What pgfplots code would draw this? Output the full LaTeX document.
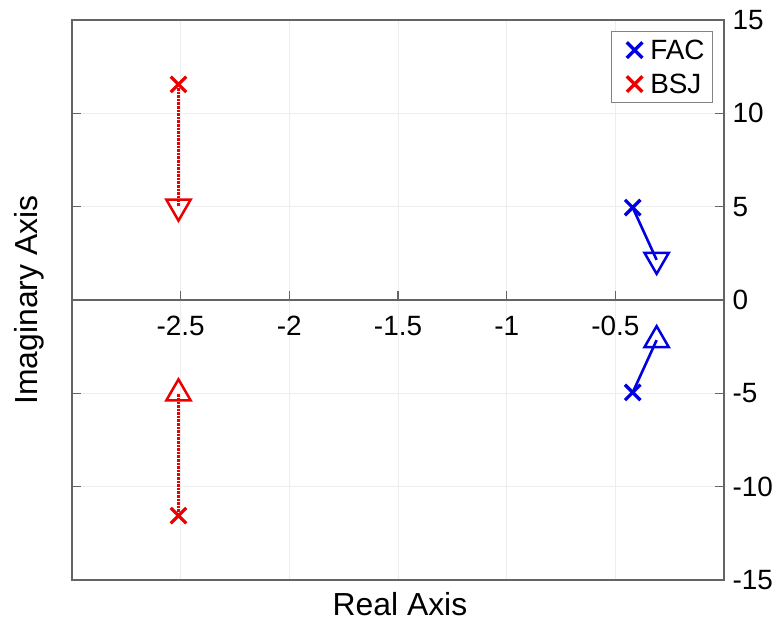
\documentclass[border=0pt]{standalone}
\usepackage{fontspec}
\setmainfont{Liberation Sans}
\usepackage{pgfplots}
\pgfplotsset{compat=1.18}
\definecolor{axgray}{RGB}{100,100,100}
\definecolor{mred}{RGB}{235,0,0}
\definecolor{mblue}{RGB}{0,0,225}
\begin{document}
\begin{tikzpicture}
\useasboundingbox (0,0) rectangle (776bp,624bp);
\begin{axis}[
  at={(72bp,44bp)}, anchor=south west,
  scale only axis, width=652bp, height=560bp,
  xmin=-3, xmax=0, ymin=-15, ymax=15,
  /pgf/number format/assume math mode=true,
  font=\fontsize{28}{32}\selectfont,
  axis line style={axgray, line width=1.2bp},
  xtick={-2.5,-2,-1.5,-1,-0.5}, xticklabels={}, xtick style={draw=none},
  ytick={-15,-10,-5,0,5,10,15},
  yticklabel pos=right, ytick pos=both,
  yticklabel style={xshift=5bp},
  tick align=inside, major tick length=9bp,
  ytick style={axgray, line width=1.3bp},
  grid=major, grid style={gray!14, line width=0.7bp},
  xlabel={Real Axis}, ylabel={Imaginary Axis},
  xlabel style={font=\fontsize{32}{36}\selectfont, at={(axis description cs:0.503,-0.043)}, anchor=center},
  ylabel style={font=\fontsize{32}{36}\selectfont, at={(axis description cs:-0.066,0.5)}, anchor=center},
  legend style={at={(0.983,0.98)}, anchor=north east, draw=axgray!80, line width=0.8bp,
    font=\fontsize{28}{32}\selectfont, inner xsep=2bp, inner ysep=3bp, row sep=3bp,
    nodes={inner xsep=6bp, inner ysep=5bp}},
  legend cell align=left,
  legend image code/.code={\path (-20bp,0bp) (8bp,0bp); \draw[#1] plot coordinates {(0bp,0bp)};},
]
% FAC (blue)
\addplot[mblue, line width=2.6bp, forget plot] coordinates {(-0.42,4.95) (-0.31,2.15)};
\addplot[mblue, line width=2.6bp, forget plot] coordinates {(-0.42,-4.95) (-0.31,-2.15)};
% BSJ (red, dotted)
\addplot[mred, line width=2.6bp, densely dotted, forget plot] coordinates {(-2.51,11.55) (-2.51,5.0)};
\addplot[mred, line width=2.6bp, densely dotted, forget plot] coordinates {(-2.51,-11.55) (-2.51,-5.0)};
% triangles
\addplot[mblue, only marks, mark=triangle, mark size=14bp, line width=2.5bp, mark options={rotate=180}, forget plot] coordinates {(-0.31,2.15)};
\addplot[mblue, only marks, mark=triangle, mark size=14bp, line width=2.5bp, forget plot] coordinates {(-0.31,-2.15)};
\addplot[mred, only marks, mark=triangle, mark size=14bp, line width=2.5bp, mark options={rotate=180}, forget plot] coordinates {(-2.51,5.0)};
\addplot[mred, only marks, mark=triangle, mark size=14bp, line width=2.5bp, forget plot] coordinates {(-2.51,-5.0)};
% crosses (legend)
\addplot[mblue, only marks, mark=x, mark size=11bp, line width=3.3bp] coordinates {(-0.42,4.95) (-0.42,-4.95)};
\addlegendentry{FAC}
\addplot[mred, only marks, mark=x, mark size=11bp, line width=3.3bp] coordinates {(-2.51,11.55) (-2.51,-11.55)};
\addlegendentry{BSJ}
\end{axis}
% x axis through the origin: a half-height axis whose bottom edge is y = 0
\begin{axis}[
  at={(72bp,324bp)}, anchor=south west,
  scale only axis, width=652bp, height=280bp,
  xmin=-3, xmax=0, ymin=0, ymax=15,
  axis x line*=bottom, axis y line=none,
  x axis line style={axgray, line width=1.2bp},
  /pgf/number format/assume math mode=true,
  font=\fontsize{28}{32}\selectfont,
  xtick={-2.5,-2,-1.5,-1,-0.5},
  xticklabels={-2.5,-2,-1.5,-1,-0.5},
  xtick style={axgray, line width=1.3bp},
  tick align=inside, major tick length=9bp,
  xticklabel style={anchor=north, yshift=-13bp},
]
\end{axis}
\end{tikzpicture}
\end{document}
